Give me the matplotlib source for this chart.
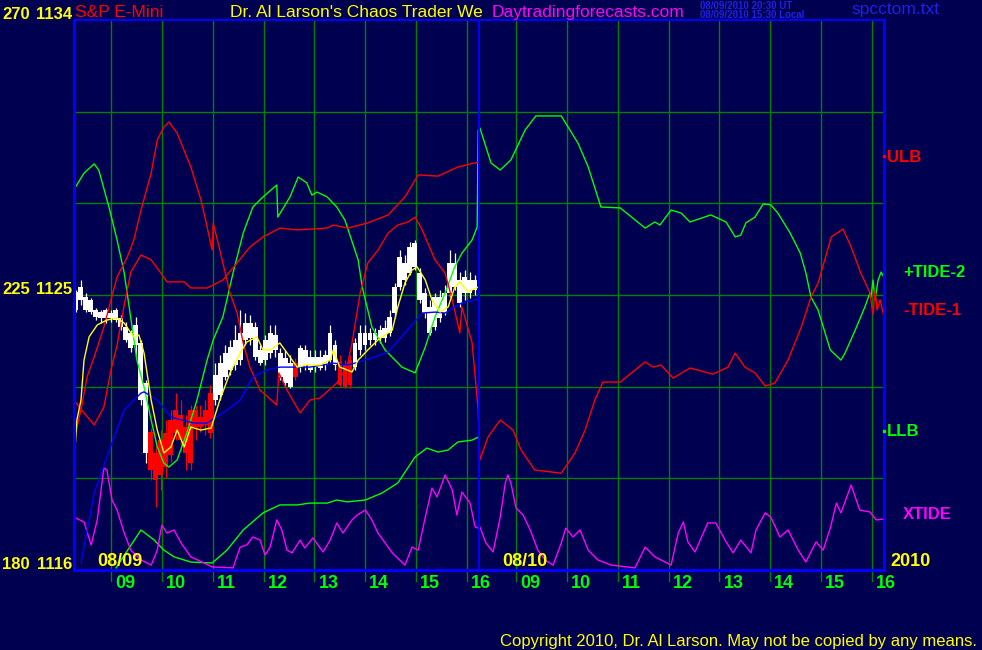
import matplotlib
matplotlib.use("Agg")
import matplotlib.pyplot as plt
import matplotlib.transforms as mtransforms
from matplotlib import font_manager as fm
import numpy as np

# ---------------- data ----------------
session_start = 8.273      # clock hour at left edge of each day panel
session_len = 7.963        # hours shown per day
day_labels = ["08/09", "08/10"]
year_label = "2010"
hour_ticks = [9, 10, 11, 12, 13, 14, 15, 16]
price_min, price_max = 1116, 1134
price_grid = [1119, 1122, 1125, 1128, 1131]
left_prices = [1134, 1125, 1116]
left_tide = [270, 225, 180]

# day-1 price bars (6-minute bars)
bar_first, bar_step = 8.31, 0.098
body_top = [1125.10, 1125.26, 1124.93, 1124.84, 1124.51, 1124.44, 1124.51, 1124.41, 1124.51, 1124.25,
            1123.95, 1123.76, 1124.02, 1123.43, 1122.12, 1120.52, 1119.83, 1120.25, 1120.48, 1120.91,
            1121.24, 1121.07, 1120.68, 1121.24, 1121.24, 1121.01, 1121.24, 1121.79, 1122.38, 1122.77,
            1123.10, 1123.30, 1123.53, 1123.76, 1124.08, 1124.08, 1123.95, 1123.20, 1123.53, 1123.76,
            1123.69, 1123.10, 1122.94, 1122.77, 1122.77, 1123.27, 1123.20, 1122.97, 1122.97, 1122.97,
            1123.04, 1123.76, 1123.36, 1122.81, 1122.71, 1122.87, 1123.43, 1123.76, 1123.76, 1123.76,
            1123.76, 1123.85, 1123.92, 1124.28, 1125.26, 1126.24, 1126.05, 1126.57, 1126.70, 1125.72,
            1125.07, 1124.61, 1124.93, 1124.93, 1125.07, 1126.05, 1126.05, 1125.49, 1125.59, 1125.49,
            1125.49]
body_bot = [1124.51, 1124.84, 1124.51, 1124.44, 1124.28, 1124.25, 1124.25, 1124.25, 1124.18, 1123.95,
            1123.53, 1123.27, 1123.36, 1121.56, 1119.83, 1119.27, 1118.95, 1119.11, 1119.37, 1119.76,
            1120.48, 1120.25, 1119.83, 1119.50, 1120.68, 1120.68, 1120.75, 1120.48, 1121.56, 1121.73,
            1122.32, 1122.55, 1122.71, 1122.87, 1123.53, 1123.59, 1122.97, 1122.77, 1122.87, 1123.10,
            1123.20, 1122.32, 1122.12, 1121.99, 1122.32, 1122.64, 1122.71, 1122.55, 1122.64, 1122.61,
            1122.71, 1122.87, 1122.71, 1122.05, 1121.99, 1122.05, 1122.64, 1123.20, 1123.36, 1123.53,
            1123.53, 1123.59, 1123.59, 1123.76, 1124.41, 1125.26, 1125.49, 1125.72, 1125.92, 1124.84,
            1124.41, 1123.76, 1123.95, 1124.25, 1124.41, 1125.07, 1125.26, 1124.74, 1125.07, 1125.07,
            1125.16]
bar_high = [1125.16, 1125.49, 1125.07, 1124.90, 1124.57, 1124.51, 1124.57, 1124.51, 1124.57, 1124.35,
            1124.12, 1123.85, 1124.28, 1123.53, 1122.22, 1120.65, 1120.09, 1120.58, 1120.91, 1121.24,
            1121.79, 1121.56, 1121.07, 1121.40, 1121.40, 1121.40, 1121.56, 1122.05, 1122.77, 1123.04,
            1123.36, 1123.53, 1124.02, 1124.51, 1124.41, 1124.35, 1124.12, 1123.36, 1123.69, 1124.02,
            1124.02, 1123.27, 1123.20, 1123.04, 1122.94, 1123.36, 1123.36, 1123.20, 1123.20, 1123.20,
            1123.20, 1124.02, 1123.53, 1123.04, 1122.87, 1123.04, 1123.59, 1124.02, 1124.02, 1123.92,
            1123.92, 1124.02, 1124.18, 1124.51, 1125.39, 1126.47, 1126.31, 1126.73, 1126.80, 1125.88,
            1125.23, 1124.84, 1125.07, 1125.16, 1125.33, 1126.47, 1126.37, 1125.75, 1125.82, 1125.75,
            1125.65]
bar_low = [1124.44, 1124.67, 1124.44, 1124.38, 1124.18, 1124.08, 1124.08, 1124.12, 1124.12, 1123.85,
           1123.46, 1123.14, 1122.97, 1121.40, 1119.50, 1118.95, 1118.06, 1118.62, 1119.01, 1119.53,
           1120.25, 1119.93, 1119.27, 1119.27, 1120.25, 1120.52, 1120.42, 1120.32, 1121.40, 1121.56,
           1122.22, 1122.38, 1122.55, 1122.71, 1123.36, 1123.36, 1122.87, 1122.71, 1122.71, 1122.94,
           1122.97, 1122.22, 1121.99, 1121.96, 1122.22, 1122.48, 1122.55, 1122.48, 1122.48, 1122.55,
           1122.55, 1122.81, 1122.55, 1121.99, 1121.96, 1121.96, 1122.55, 1123.04, 1123.20, 1123.36,
           1123.36, 1123.43, 1123.46, 1123.66, 1124.25, 1125.16, 1125.33, 1125.65, 1125.82, 1124.74,
           1124.25, 1123.69, 1123.85, 1124.12, 1124.35, 1124.93, 1125.16, 1124.61, 1124.84, 1124.90,
           1125.00]
red_bars = [15, 16, 17, 18, 19, 20, 21, 22, 23, 24, 25, 26, 27, 44, 53, 54, 55]

# +TIDE-2 (green)
tide2_d1_t = [8.27, 8.47, 8.67, 8.76, 8.96, 9.12, 9.26, 9.51, 9.65, 9.79, 9.91, 10.04, 10.14, 10.30, 10.49,
              10.69, 10.89, 11.01, 11.20, 11.40, 11.60, 11.79, 11.99, 12.26, 12.28, 12.52, 12.68, 12.85,
              12.95, 13.05, 13.25, 13.44, 13.60, 13.86, 13.94, 14.13, 14.39, 14.72, 14.98, 15.18, 15.37,
              15.57, 15.76, 15.90, 16.10, 16.20, 16.22]
tide2_d1_v = [1128.44, 1128.99, 1129.29, 1129.09, 1127.88, 1126.80, 1125.72, 1122.87, 1121.99, 1120.91,
              1120.03, 1119.50, 1119.37, 1119.60, 1120.48, 1121.56, 1122.87, 1123.53, 1124.28, 1125.72,
              1127.03, 1127.88, 1128.21, 1128.60, 1127.55, 1128.21, 1128.86, 1128.67, 1128.27, 1128.37,
              1128.21, 1127.88, 1127.45, 1126.15, 1125.26, 1123.95, 1123.20, 1122.64, 1122.45, 1123.30,
              1124.28, 1125.07, 1125.92, 1126.37, 1126.80, 1127.23, 1130.40]
tide2_d2_t = [8.29, 8.51, 8.69, 8.90, 9.18, 9.39, 9.89, 10.22, 10.42, 10.67, 11.05, 11.54, 11.73, 11.83,
              12.05, 12.25, 12.42, 12.83, 13.13, 13.31, 13.42, 13.52, 13.70, 13.86, 14.01, 14.15, 14.39,
              14.59, 14.70, 14.80, 14.94, 15.18, 15.39, 15.47, 15.67, 15.86, 15.96, 15.98, 16.02, 16.06,
              16.12, 16.18, 16.24]
tide2_d2_v = [1130.47, 1129.32, 1129.09, 1129.42, 1130.40, 1130.86, 1130.86, 1129.97, 1129.19, 1127.88,
              1127.85, 1127.19, 1127.39, 1127.29, 1127.78, 1127.68, 1127.39, 1127.62, 1127.39, 1126.90,
              1126.96, 1127.36, 1127.55, 1127.98, 1127.95, 1127.68, 1127.03, 1126.37, 1125.72, 1124.93,
              1124.51, 1123.20, 1122.87, 1123.10, 1123.85, 1124.61, 1125.07, 1124.93, 1125.49, 1124.84,
              1125.49, 1125.75, 1125.56]

# -TIDE-1 (red)
tide1_d1_t = [8.27, 8.41, 8.53, 8.67, 8.86, 9.00, 9.12, 9.32, 9.45, 9.59, 9.79, 9.91, 10.04, 10.14, 10.30,
              10.57, 10.77, 10.89, 10.99, 11.01, 11.14, 11.34, 11.48, 11.60, 11.73, 11.93, 12.26, 12.30,
              12.46, 12.72, 12.91, 13.11, 13.44, 13.64, 13.74, 13.90, 14.05, 14.25, 14.45, 14.64, 14.84,
              14.98, 15.12, 15.37, 15.57, 15.71, 15.86, 15.90, 16.10, 16.22]
tide1_d1_v = [1120.25, 1121.24, 1122.32, 1122.97, 1123.95, 1124.84, 1125.59, 1126.24, 1126.80, 1127.78,
              1128.99, 1130.07, 1130.50, 1130.66, 1130.30, 1129.19, 1128.11, 1127.23, 1126.47, 1127.36,
              1126.47, 1125.07, 1124.41, 1123.43, 1122.64, 1121.89, 1121.40, 1122.45, 1121.89, 1121.14,
              1121.56, 1121.63, 1122.12, 1122.64, 1123.43, 1125.07, 1126.05, 1126.47, 1127.03, 1127.29,
              1127.39, 1127.55, 1127.13, 1126.15, 1125.72, 1124.84, 1123.76, 1124.61, 1123.43, 1121.24]
tide1_d2_t = [8.29, 8.45, 8.69, 8.94, 9.10, 9.37, 9.89, 10.16, 10.36, 10.55, 10.71, 11.05, 11.54, 11.70,
              11.85, 12.09, 12.42, 12.87, 13.17, 13.31, 13.50, 13.70, 13.90, 14.09, 14.35, 14.61, 14.80,
              14.94, 15.20, 15.43, 15.59, 15.78, 15.96, 16.02, 16.06, 16.10, 16.16, 16.24]
tide1_d2_v = [1119.60, 1120.35, 1120.91, 1120.58, 1119.93, 1119.27, 1119.17, 1119.83, 1120.58, 1121.56,
              1122.15, 1122.15, 1122.81, 1122.64, 1122.71, 1122.28, 1122.61, 1122.41, 1122.64, 1123.10,
              1122.64, 1122.45, 1122.02, 1122.12, 1122.87, 1123.95, 1124.93, 1125.39, 1126.90, 1127.16,
              1126.57, 1125.72, 1125.07, 1124.35, 1125.16, 1124.51, 1124.84, 1124.25]

# ULB (red band, day 1)
ulb_t = [8.27, 8.47, 8.67, 8.86, 9.00, 9.12, 9.26, 9.39, 9.59, 9.79, 9.98, 10.10, 10.44, 10.57, 10.89,
         11.20, 11.48, 11.73, 11.99, 12.32, 12.66, 13.25, 13.37, 13.66, 14.05, 14.45, 14.78, 15.04, 15.43,
         15.82, 16.22]
ulb_v = [1121.56, 1121.14, 1120.75, 1121.33, 1122.55, 1123.36, 1124.67, 1125.75, 1126.31, 1126.15,
         1125.72, 1125.43, 1125.43, 1125.23, 1125.23, 1125.49, 1126.05, 1126.57, 1126.90, 1127.19,
         1127.13, 1127.19, 1127.29, 1127.19, 1127.36, 1127.62, 1128.21, 1128.93, 1128.89, 1129.19,
         1129.35]

# LLB (green band, day 1)
llb_t = [9.10, 9.59, 9.85, 10.04, 10.24, 10.57, 10.99, 11.28, 11.60, 11.99, 12.32, 12.66, 12.91, 13.25,
         13.44, 13.64, 14.00, 14.33, 14.64, 14.98, 15.21, 15.43, 15.63, 15.82, 16.10, 16.22]
llb_v = [1116.07, 1117.31, 1116.98, 1116.65, 1116.43, 1116.26, 1116.23, 1116.65, 1117.31, 1117.87,
         1118.13, 1118.13, 1118.19, 1118.19, 1118.29, 1118.23, 1118.29, 1118.52, 1118.85, 1119.70,
         1119.99, 1119.86, 1119.93, 1120.19, 1120.25, 1120.35]

# fast average (yellow)
fast_t = [8.27, 8.33, 8.41, 8.47, 8.57, 8.73, 8.92, 9.12, 9.26, 9.39, 9.45, 9.55, 9.65, 9.79, 9.91, 10.04,
          10.18, 10.30, 10.44, 10.57, 10.77, 10.97, 11.14, 11.34, 11.54, 11.67, 11.87, 11.99, 12.13, 12.32,
          12.52, 12.66, 12.85, 13.11, 13.31, 13.37, 13.50, 13.64, 13.74, 13.86, 14.05, 14.25, 14.53, 14.64,
          14.78, 14.92, 15.02, 15.18, 15.31, 15.47, 15.63, 15.76, 15.86, 16.02, 16.22]
fast_v = [1119.37, 1120.91, 1121.56, 1122.87, 1123.63, 1124.02, 1124.18, 1124.25, 1124.08, 1123.76,
          1123.63, 1123.69, 1123.10, 1121.56, 1120.58, 1119.83, 1120.03, 1120.58, 1120.03, 1120.68,
          1120.58, 1120.65, 1121.56, 1122.45, 1123.10, 1123.46, 1123.63, 1123.20, 1123.20, 1123.43,
          1122.97, 1122.64, 1122.71, 1122.71, 1122.87, 1123.20, 1122.64, 1122.55, 1122.48, 1122.87,
          1123.20, 1123.53, 1123.85, 1124.61, 1125.39, 1125.82, 1125.92, 1125.49, 1124.84, 1124.44,
          1124.61, 1125.26, 1125.43, 1125.10, 1125.26]

# slow average (blue)
slow_t = [8.41, 8.67, 8.92, 9.26, 9.59, 9.65, 9.91, 10.18, 10.38, 10.63, 10.89, 11.20, 11.54, 11.79, 12.07,
          12.32, 12.91, 13.37, 13.64, 13.80, 14.13, 14.45, 14.78, 15.12, 15.37, 15.57, 15.76, 15.90, 16.22]
slow_v = [1116.23, 1118.52, 1119.70, 1121.24, 1121.79, 1121.83, 1121.56, 1121.01, 1120.91, 1120.81,
          1120.81, 1121.14, 1121.56, 1122.32, 1122.55, 1122.64, 1122.64, 1122.77, 1122.71, 1122.77,
          1122.94, 1123.14, 1123.76, 1124.41, 1124.44, 1124.41, 1124.61, 1124.74, 1124.87]

# XTIDE (magenta)
xtide_d1_t = [8.27, 8.47, 8.61, 8.73, 8.86, 8.92, 9.02, 9.12, 9.26, 9.39, 9.59, 9.79, 9.91, 10.00, 10.10,
              10.24, 10.38, 10.57, 10.83, 10.99, 11.40, 11.54, 11.67, 11.79, 11.93, 12.03, 12.13, 12.26,
              12.36, 12.46, 12.56, 12.72, 12.81, 12.97, 13.17, 13.31, 13.44, 13.56, 13.74, 13.84, 14.00,
              14.13, 14.25, 14.53, 14.78, 14.92, 15.04, 15.18, 15.31, 15.41, 15.57, 15.71, 15.80, 15.90,
              16.06, 16.16, 16.22]
xtide_d1_v = [1117.73, 1117.57, 1116.82, 1117.64, 1119.34, 1119.27, 1118.29, 1117.96, 1117.21, 1116.65,
              1116.33, 1116.16, 1116.65, 1117.47, 1117.21, 1117.31, 1116.88, 1116.43, 1116.23, 1116.10,
              1116.07, 1116.75, 1116.82, 1117.08, 1116.98, 1116.49, 1116.75, 1117.64, 1117.31, 1116.65,
              1116.56, 1116.98, 1116.72, 1117.05, 1116.59, 1116.98, 1117.54, 1117.21, 1117.64, 1117.80,
              1117.96, 1117.64, 1117.21, 1116.56, 1116.16, 1116.75, 1116.65, 1117.73, 1118.68, 1118.39,
              1119.11, 1118.62, 1117.80, 1118.55, 1118.19, 1117.41, 1117.37]
xtide_d2_t = [8.29, 8.41, 8.55, 8.69, 8.79, 8.84, 8.90, 9.00, 9.14, 9.28, 9.43, 9.57, 9.73, 9.89, 9.98,
              10.12, 10.26, 10.42, 10.61, 10.87, 11.34, 11.54, 11.73, 12.05, 12.19, 12.29, 12.38, 12.52,
              12.77, 12.93, 13.11, 13.27, 13.42, 13.62, 13.72, 13.90, 14.01, 14.19, 14.35, 14.55, 14.70,
              14.90, 15.04, 15.18, 15.30, 15.39, 15.59, 15.76, 15.96, 16.08, 16.24]
xtide_d2_v = [1117.41, 1116.88, 1116.59, 1117.73, 1118.85, 1119.11, 1118.85, 1118.03, 1117.80, 1117.31,
              1116.65, 1116.33, 1116.16, 1116.88, 1117.37, 1117.08, 1117.31, 1116.65, 1116.33, 1116.16,
              1116.07, 1116.75, 1116.43, 1116.16, 1117.21, 1117.57, 1116.92, 1116.59, 1117.54, 1117.54,
              1116.98, 1116.56, 1116.98, 1116.56, 1117.31, 1117.87, 1117.73, 1117.08, 1117.31, 1116.65,
              1116.26, 1116.92, 1116.65, 1117.37, 1118.19, 1117.87, 1118.78, 1117.96, 1117.90, 1117.64,
              1117.67]

# ---------------- style ----------------
BG = "#000050"
BLUE = "#0000FF"
GRID = "#008000"
GREEN = "#00FF00"
RED = "#FF0000"
YELLOW = "#FFFF00"
MAGENTA = "#FF00FF"
WHITE = "#FFFFFF"
DATEBLUE = "#2020E8"

avail = {f.name for f in fm.fontManager.ttflist}
NARROW = "Liberation Sans Narrow" if "Liberation Sans Narrow" in avail else "Liberation Sans"
REG = "Liberation Sans"

W, H = 982, 650
fig = plt.figure(figsize=(W / 100, H / 100), dpi=100, facecolor=BG)
ax = fig.add_axes([74 / W, 1 - 570 / H, (884 - 74) / W, 550 / H])
ax.set_facecolor(BG)
x_end = (884 - 74) / 50.86
ax.set_xlim(0, x_end)
ax.set_ylim(price_min, price_max)
ax.set_xticks([])
ax.set_yticks([])
for side, lw in (("left", 2.2), ("bottom", 2.2), ("right", 2.2), ("top", 1.5)):
    ax.spines[side].set_color(BLUE)
    ax.spines[side].set_linewidth(lw)
    ax.spines[side].set_zorder(6)


def cx(day, clock):
    return np.asarray(clock, dtype=float) - session_start + day * session_len


# grid
for p in price_grid:
    ax.axhline(p, color=GRID, lw=1.0, zorder=1)
xtr = ax.get_xaxis_transform()
lab_tr = mtransforms.offset_copy(xtr, fig=fig, x=4, y=-5, units="dots")
for day in (0, 1):
    for h in hour_ticks:
        x = float(cx(day, h))
        ax.plot([x, x], [-0.02, 1], transform=xtr, color=GRID, lw=1.0, clip_on=False, zorder=1)
        ax.text(x, 0, f"{h:02d}", transform=lab_tr, color=GREEN, fontsize=13, fontweight="bold",
                family=NARROW, ha="left", va="top")

# divider between the days
ax.axvline(session_len, color=BLUE, lw=1.5, zorder=5)

# price bars
n = len(body_top)
bt = cx(0, bar_first + bar_step * np.arange(n))
colors = [RED if i in red_bars else WHITE for i in range(n)]
ax.vlines(bt, bar_low, bar_high, colors=colors, lw=0.9, zorder=2)
heights = np.maximum(np.array(body_top) - np.array(body_bot), 0.05)
ax.bar(bt, heights, bottom=body_bot, width=0.095, color=colors, lw=0, zorder=2)

# lines
lw = 1.0
ax.plot(np.concatenate([cx(0, tide2_d1_t), cx(1, tide2_d2_t)]), tide2_d1_v + tide2_d2_v,
        color=GREEN, lw=lw, zorder=3)
ax.plot(np.concatenate([cx(0, tide1_d1_t), cx(1, tide1_d2_t)]), tide1_d1_v + tide1_d2_v,
        color=RED, lw=lw, zorder=3)
ax.plot(cx(0, ulb_t), ulb_v, color=RED, lw=lw, zorder=3)
ax.plot(cx(0, llb_t), llb_v, color=GREEN, lw=lw, zorder=3)
ax.plot(np.concatenate([cx(0, xtide_d1_t), cx(1, xtide_d2_t)]), xtide_d1_v + xtide_d2_v,
        color=MAGENTA, lw=lw, zorder=3)
ax.plot(cx(0, slow_t), slow_v, color=BLUE, lw=lw, zorder=3)
ax.plot(cx(0, fast_t), fast_v, color=YELLOW, lw=lw, zorder=4)

# band markers on the right edge
ax.plot([x_end], [ulb_v[-1] + 0.2], marker="s", ms=2, color=RED, clip_on=False, zorder=7)
ax.plot([x_end], [llb_v[-1] + 0.2], marker="s", ms=2, color=GREEN, clip_on=False, zorder=7)


# ---------------- texts ----------------
def fx(px):
    return px / W


def fy(py):
    return 1 - py / H


# left scale labels
for tv, pv in zip(left_tide, left_prices):
    yb = 570 - (pv - price_min) / (price_max - price_min) * 550 - 1
    fig.text(fx(2), fy(yb), str(tv), color=YELLOW, fontsize=12, fontweight="bold", family=NARROW,
             ha="left", va="baseline")
    fig.text(fx(72), fy(yb), str(pv), color=YELLOW, fontsize=12, fontweight="bold", family=NARROW,
             ha="right", va="baseline")

# header
fig.text(fx(75), fy(17), "S&P E-Mini", color=RED, fontsize=12.5, family=REG, va="baseline")
fig.text(fx(230), fy(17), "Dr. Al Larson's Chaos Trader We", color=YELLOW, fontsize=12.5, family=REG,
         va="baseline")
fig.text(fx(492), fy(17), "Daytradingforecasts.com", color=MAGENTA, fontsize=12.5, family=REG,
         va="baseline")
fig.text(fx(700), fy(9), "08/09/2010 20:30 UT", color=DATEBLUE, fontsize=7, fontweight="bold",
         family=REG, va="baseline")
fig.text(fx(700), fy(17.5), "08/09/2010 15:30 Local", color=DATEBLUE, fontsize=7, fontweight="bold",
         family=REG, va="baseline")
fig.text(fx(851), fy(14), "spcctom.txt", color=DATEBLUE, fontsize=12.5, family=REG, va="baseline")

# right labels
right_labels = [("ULB", RED, 887, 162), ("+TIDE-2", GREEN, 903, 277), ("-TIDE-1", RED, 903, 315),
                ("LLB", GREEN, 887, 436), ("XTIDE", MAGENTA, 903, 519)]
for txt, col, px, py in right_labels:
    fig.text(fx(px), fy(py), txt, color=col, fontsize=12, fontweight="bold", family=NARROW,
             va="baseline")

# date labels
fig.text(fx(97), fy(566), day_labels[0], color=YELLOW, fontsize=13, fontweight="bold", family=NARROW,
         va="baseline")
fig.text(fx(502), fy(566), day_labels[1], color=YELLOW, fontsize=13, fontweight="bold", family=NARROW,
         va="baseline")
fig.text(fx(890), fy(566), year_label, color=YELLOW, fontsize=13, fontweight="bold", family=NARROW,
         va="baseline")

fig.text(fx(977), fy(646), "Copyright 2010, Dr. Al Larson. May not be copied by any means.",
         color=YELLOW, fontsize=12, family=REG, ha="right", va="baseline")

fig.savefig("out.png", dpi=100, facecolor=BG)
